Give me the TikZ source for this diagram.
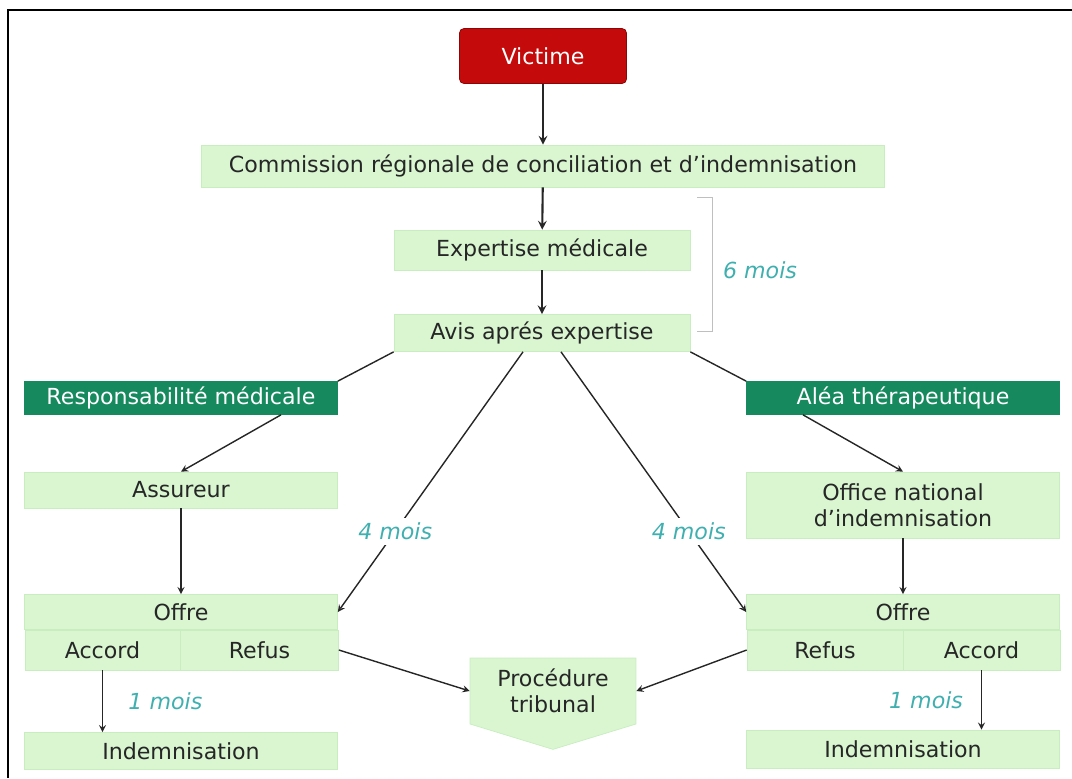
\documentclass[tikz,border=0pt]{standalone}
\usepackage{fontspec}
\setmainfont{DejaVu Sans}
\usepackage{xcolor}
\usepackage{tikz}
\usetikzlibrary{shapes.symbols, positioning}
\definecolor{paleGreen}{HTML}{D9F6D0}
\definecolor{edgeGreen}{HTML}{C8EDBF}
\definecolor{darkGreen}{HTML}{168A5E}
\definecolor{victimRed}{HTML}{C40A0A}
\definecolor{delayTeal}{HTML}{3FAFAF}
\tikzstyle{base} = [font=\fontsize{12.6}{15}\selectfont, inner sep=0pt, align=center]
\tikzstyle{stage} = [rectangle, base, fill=paleGreen, draw=edgeGreen, text=black!85]
\tikzstyle{branch} = [rectangle, base, fill=darkGreen, draw=darkGreen, text=white]
\tikzstyle{victim} = [rectangle, rounded corners=2.5pt, base, fill=victimRed, draw=victimRed!70!black, text=white]
\tikzstyle{delay} = [base, inner sep=3pt, text=delayTeal, font=\fontsize{12.6}{15}\selectfont\itshape]
\tikzstyle{link} = [-stealth, line width=0.8pt, black!85]

\begin{document}
\begin{tikzpicture}[x=0.02cm, y=-0.02cm]
		\useasboundingbox (0,0) rectangle (1072,778);
		\draw [line width=1.1pt] (1072,10) -| (8,778);
		\node (Victime)[victim, minimum width=3.34cm, minimum height=1.1cm] at (543,56){Victime};
		\node (Commission)[stage, minimum width=13.66cm, minimum height=0.84cm] at (543,166){Commission régionale de conciliation et d'indemnisation};
		\node (Expertise)[stage, minimum width=5.92cm, minimum height=0.8cm] at (542,250){Expertise médicale};
		\node (Avis)[stage, minimum width=5.92cm, minimum height=0.74cm] at (542,333){Avis aprés expertise};
		\node (Responsabilite)[branch, minimum width=6.26cm, minimum height=0.66cm] at (181,398){Responsabilité médicale};
		\node (Alea)[branch, minimum width=6.26cm, minimum height=0.66cm] at (903,398){Aléa thérapeutique};
		\node (Assureur)[stage, minimum width=6.26cm, minimum height=0.72cm] at (181,490){Assureur};
		\node (Office)[stage, minimum width=6.26cm, minimum height=1.32cm] at (903,505){Office national\\d'indemnisation};
		\node (Offre L)[stage, minimum width=6.26cm, minimum height=0.7cm] at (181,612){Offre};
		\node (Accord L)[stage, minimum width=3.1cm, minimum height=0.8cm] at (102.5,650){Accord};
		\node (Refus L)[stage, minimum width=3.16cm, minimum height=0.8cm] at (259.5,650){Refus};
		\node (Offre R)[stage, minimum width=6.26cm, minimum height=0.7cm] at (903,612){Offre};
		\node (Refus R)[stage, minimum width=3.12cm, minimum height=0.8cm] at (825,650){Refus};
		\node (Accord R)[stage, minimum width=3.14cm, minimum height=0.8cm] at (981.5,650){Accord};
		\node (Procedure)[stage, signal, signal to=south, signal pointer angle=146, minimum width=3.32cm, minimum height=1.66cm] at (553,691){Procédure\\tribunal};
		\node (Indemnisation L)[stage, minimum width=6.26cm, minimum height=0.74cm] at (181,751){Indemnisation};
		\node (Indemnisation R)[stage, minimum width=6.26cm, minimum height=0.76cm] at (903,749){Indemnisation};
		% six mois bracket
		\draw [black!25] (697,197) -- (712,197) -- (712,331) -- (697,331);
		\node (Six mois)[delay] at (760,270){6 mois};
		\draw [link, line width=1.2pt] (Victime) -- (Commission);
		\draw [link, line width=1.2pt] (Commission) -- (Expertise);
		\draw [link, line width=1.2pt] (Expertise) -- (Avis);
		\draw [line width=0.8pt, black!85] (Avis.south west) -- (Responsabilite.north east);
		\draw [line width=0.8pt, black!85] (Avis.south east) -- (Alea.north west);
		\draw [link] ([xshift=-0.38cm]Avis.south) -- node[delay, fill=white, pos=0.69]{4 mois} (Offre L.east);
		\draw [link] ([xshift=0.38cm]Avis.south) -- node[delay, fill=white, pos=0.69]{4 mois} (Offre R.west);
		\draw [link] ([xshift=2cm]Responsabilite.south) -- (Assureur.north);
		\draw [link] ([xshift=-2cm]Alea.south) -- (Office.north);
		\draw [link] (Assureur) -- (Offre L);
		\draw [link] (Office) -- (Offre R);
		\draw [link] (Refus L.east) -- (Procedure.west);
		\draw [link] (Refus R.west) -- (Procedure.east);
		\draw [link] (Accord L.south) -- node[delay, right=0.4cm]{1 mois} (Accord L.south |- Indemnisation L.north);
		\draw [link] (Accord R.south) -- node[delay, left=0.25cm]{1 mois} (Accord R.south |- Indemnisation R.north);
	\end{tikzpicture}
\end{document}
